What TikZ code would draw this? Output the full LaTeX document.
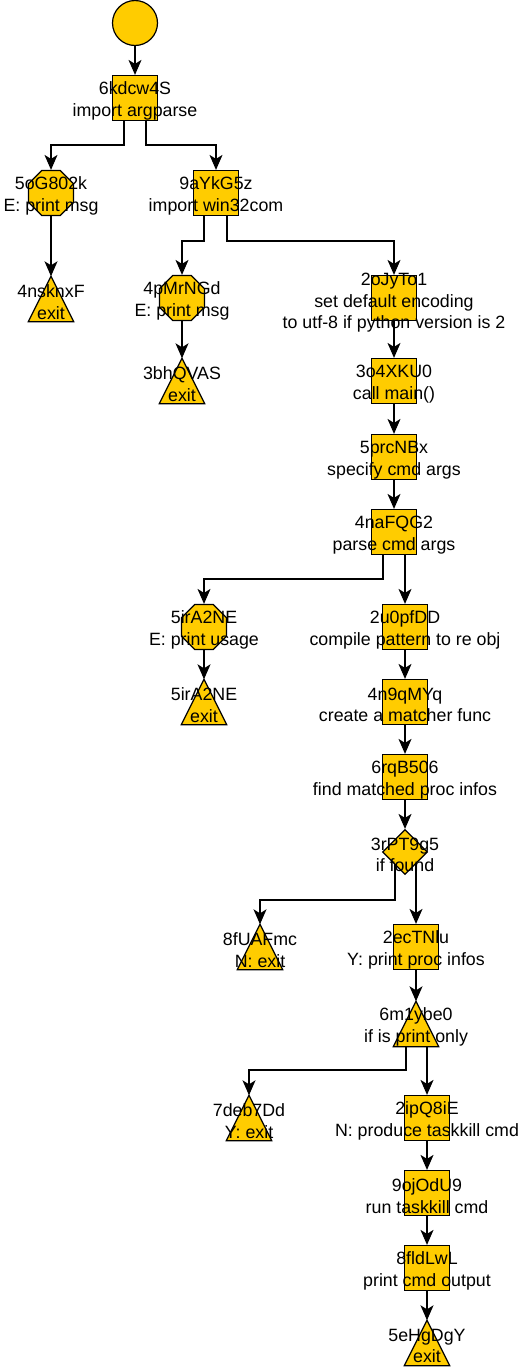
\documentclass[tikz,border=0pt]{standalone}
\usepackage{fontspec}
\setmainfont{Liberation Sans}
\usetikzlibrary{shapes.geometric,arrows.meta}
\definecolor{gold}{HTML}{FFCC00}
\pgfdeclarelayer{bg}
\pgfsetlayers{bg,main}
\begin{document}
\begin{tikzpicture}[x=1pt,y=-1pt,
  shp/.style={draw=black,fill=gold,line width=1.2pt},
  boxn/.style={shp,rectangle,minimum size=45pt,inner sep=0pt},
  octn/.style={shp,regular polygon,regular polygon sides=8,minimum size=48.7pt,inner sep=0pt},
  trin/.style={rectangle,minimum size=45pt,inner sep=0pt},
  dian/.style={shp,diamond,minimum width=45pt,minimum height=45pt,inner sep=0pt},
  startn/.style={shp,circle,minimum size=45pt,inner sep=0pt},
  txt/.style={align=center,font=\fontsize{17.8}{21.5}\selectfont,inner sep=0pt,yshift=-3pt},
  arr/.style={line width=1.2pt,-{Stealth[length=15pt,width=13pt,inset=4pt]}}
]
\useasboundingbox (0,0) rectangle (528,1368);
% shapes
\node[startn] (start) at (135,23) {};
\node[boxn] (a) at (135,98) {};
\node[octn] (b) at (51,193) {};
\node[boxn] (c) at (216,193) {};
\node[trin] (d) at (51,299) {};
\node[octn] (e) at (182,298) {};
\node[boxn] (f) at (394,298) {};
\node[trin] (g) at (182,381) {};
\node[boxn] (h) at (394,381) {};
\node[boxn] (i) at (394,457) {};
\node[boxn] (j) at (394,532) {};
\node[octn] (k) at (204,627) {};
\node[boxn] (l) at (405,627) {};
\node[trin] (m) at (204,702) {};
\node[boxn] (n) at (405,702) {};
\node[boxn] (o) at (405,777) {};
\node[dian] (p) at (405,852) {};
\node[trin] (q) at (260,947) {};
\node[boxn] (r) at (416,947) {};
\node[trin] (s) at (416,1024) {};
\node[trin] (t) at (249,1118) {};
\node[boxn] (u) at (427,1118) {};
\node[boxn] (v) at (427,1193) {};
\node[boxn] (w) at (427,1268) {};
\node[trin] (x) at (427,1343) {};
\foreach \tn in {d,g,m,q,s,t,x}
  \filldraw[shp,line join=miter] (\tn.south west) -- (\tn.north) -- (\tn.south east) -- cycle;
% connectors
\begin{pgfonlayer}{bg}
\fill[white] (0,0) rectangle (528,1368);
\draw[arr] (start.south) -- (a.north);
\draw[arr] ([xshift=-11pt]a.center) -- ++(0,-47pt) -| (b.north);
\draw[arr] ([xshift=11pt]a.center) -- ++(0,-47pt) -| (c.north);
\draw[arr] (b.south) -- (d.north);
\draw[arr] ([xshift=-12pt]c.center) -- ++(0,-48pt) -| (e.north);
\draw[arr] ([xshift=11pt]c.center) -- ++(0,-48pt) -| (f.north);
\draw[arr] (e.south) -- (g.north);
\draw[arr] (f.south) -- (h.north);
\draw[arr] (h.south) -- (i.north);
\draw[arr] (i.south) -- (j.north);
\draw[arr] ([xshift=-11pt]j.center) -- ++(0,-47pt) -| (k.north);
\draw[arr] ([xshift=11pt]j.center) -- (l.north);
\draw[arr] (k.south) -- (m.north);
\draw[arr] (l.south) -- (n.north);
\draw[arr] (n.south) -- (o.north);
\draw[arr] (o.south) -- (p.north);
\draw[arr] ([xshift=-10pt]p.center) -- ++(0,-48pt) -| (q.north);
\draw[arr] ([xshift=11pt]p.center) -- (r.north);
\draw[arr] (r.south) -- (s.north);
\draw[arr] ([xshift=-10pt]s.center) -- ++(0,-46pt) -| (t.north);
\draw[arr] ([xshift=11pt]s.center) -- (u.north);
\draw[arr] (u.south) -- (v.north);
\draw[arr] (v.south) -- (w.north);
\draw[arr] (w.south) -- (x.north);
\end{pgfonlayer}
% texts
\node[txt] (a-t) at (a) {6kdcw4S\\import argparse};
\node[txt] (b-t) at (b) {5oG802k\\E: print msg};
\node[txt] (c-t) at (c) {9aYkG5z\\import win32com};
\node[txt] (d-t) at (d) {4nsknxF\\exit};
\node[txt] (e-t) at (e) {4pMrNGd\\E: print msg};
\node[txt,yshift=-2pt] (f-t) at (f) {2oJyTo1\\set default encoding\\to utf-8 if python version is 2};
\node[txt] (g-t) at (g) {3bhQVAS\\exit};
\node[txt] (h-t) at (h) {3o4XKU0\\call main()};
\node[txt] (i-t) at (i) {5prcNBx\\specify cmd args};
\node[txt] (j-t) at (j) {4naFQG2\\parse cmd args};
\node[txt] (k-t) at (k) {5irA2NE\\E: print usage};
\node[txt] (l-t) at (l) {2u0pfDD\\compile pattern to re obj};
\node[txt] (m-t) at (m) {5irA2NE\\exit};
\node[txt] (n-t) at (n) {4n9qMYq\\create a matcher func};
\node[txt] (o-t) at (o) {6rqB506\\find matched proc infos};
\node[txt] (p-t) at (p) {3rPT9g5\\if found};
\node[txt] (q-t) at (q) {8fUAFmc\\N: exit};
\node[txt] (r-t) at (r) {2ecTNlu\\Y: print proc infos};
\node[txt] (s-t) at (s) {6m1ybe0\\if is print only};
\node[txt] (t-t) at (t) {7deb7Dd\\Y: exit};
\node[txt] (u-t) at (u) {2ipQ8iE\\N: produce taskkill cmd};
\node[txt] (v-t) at (v) {9ojOdU9\\run taskkill cmd};
\node[txt] (w-t) at (w) {8fldLwL\\print cmd output};
\node[txt] (x-t) at (x) {5eHgDgY\\exit};
\end{tikzpicture}
\end{document}
